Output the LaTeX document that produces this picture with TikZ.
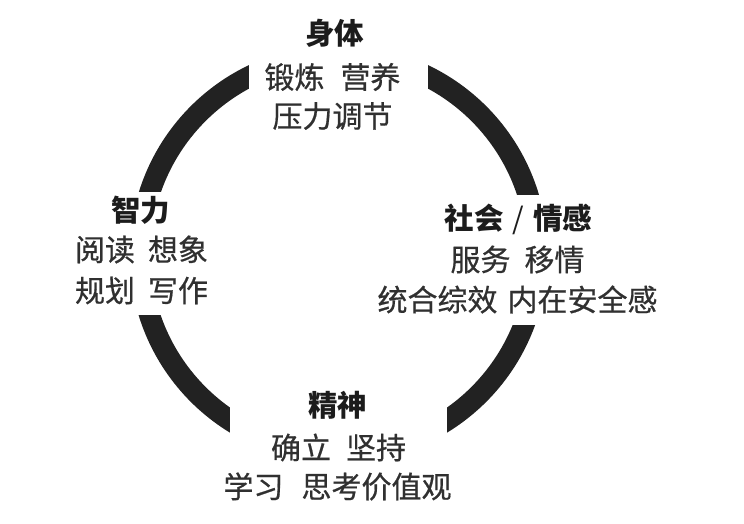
\documentclass[tikz,border=0pt]{standalone}
\usepackage{fontspec}
\setmainfont{Noto Sans CJK SC}
\newfontfamily\bodyfont{Noto Sans CJK SC}[FakeBold=0.6]
\definecolor{ringc}{HTML}{222222}
\definecolor{titlec}{HTML}{1C1C1C}
\definecolor{bodyc}{HTML}{303030}
\begin{document}
\begin{tikzpicture}[x=1pt,y=-1pt,
  ring/.style={draw=ringc, line width=21pt},
  mask/.style={fill=white},
  title/.style={font=\fontsize{29.5}{29.5}\selectfont\bfseries, text=titlec, inner sep=0pt},
  body/.style={font=\bodyfont\fontsize{30}{30}\selectfont, text=bodyc, inner sep=0pt}]
\useasboundingbox[fill=white] (0,0) rectangle (744,524);
\coordinate (o) at (338.5,254);
\draw[ring] (o) circle[radius=198.5];
% gaps in the ring
\fill[mask] (249,20) rectangle (428,140);
\fill[mask] (100,192) rectangle (200,315);
\fill[mask] (480,195) rectangle (580,325);
\fill[mask] (230,380) rectangle (447,470);
% top
\node[title] (t0) at (334.5,33.5) {身体};
\node[body]  (t1) at (332.5,77) {锻炼\hspace{16pt}营养};
\node[body]  (t2) at (332.5,116) {压力调节};
% left
\node[title] (l0) at (140.5,210) {智力};
\node[body]  (l1) at (141.5,249.5) {阅读\hspace{13pt}想象};
\node[body]  (l2) at (141.5,290.5) {规划\hspace{13pt}写作};
% right
\node[title] (r0) at (518.5,219) {社会\hspace{9pt}{\mdseries /}\hspace{9pt}情感};
\node[body]  (r1) at (517.5,259.5) {服务\hspace{14pt}移情};
\node[body]  (r2) at (517.5,299.5) {统合综效\hspace{10pt}内在安全感};
% bottom
\node[title] (b0) at (337.5,405) {精神};
\node[body]  (b1) at (338.5,447.5) {确立\hspace{15pt}坚持};
\node[body]  (b2) at (337.5,486.5) {学习\hspace{18pt}思考价值观};
\end{tikzpicture}
\end{document}
